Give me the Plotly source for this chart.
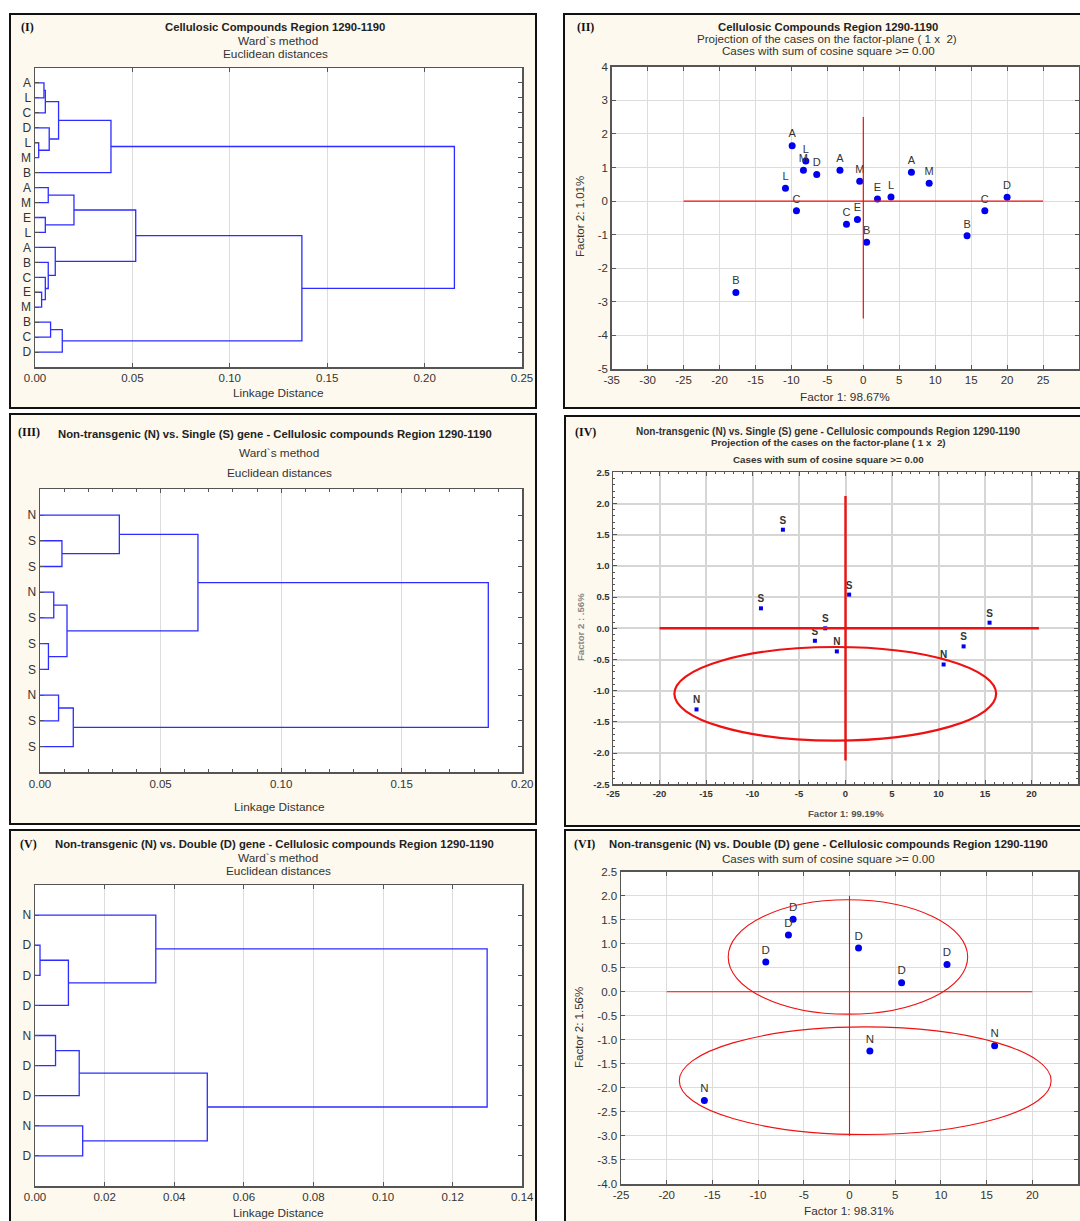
import plotly.graph_objects as go

W, H = 1080, 1221
FONT = "Liberation Sans, Arial, sans-serif"
SERIF = "Liberation Serif, Times New Roman, serif"
BLUE_LINE = "rgb(45,45,255)"

# ---------------- data ----------------
# (I) Ward dendrogram, all samples
d1_leaves = ["A", "L", "C", "D", "L", "M", "B", "A", "M", "E", "L", "A", "B", "C", "E", "M", "B", "C", "D"]
d1_left = [0, 19, 4, 3, 20, 23, 7, 9, 25, 14, 13, 12, 11, 27, 16, 33, 32, 24]
d1_right = [1, 2, 5, 21, 22, 6, 8, 10, 26, 15, 28, 29, 30, 31, 17, 18, 34, 35]
d1_height = [0.0046, 0.0053, 0.0019, 0.0073, 0.0121, 0.039, 0.0068, 0.0053, 0.020,
             0.0034, 0.0053, 0.0068, 0.0104, 0.0517, 0.0080, 0.0140, 0.137, 0.2153]
d1_xticks = [0.0, 0.05, 0.10, 0.15, 0.20, 0.25]

# (II) PCA projection, all samples
s2_labels = ["A", "L", "M", "D", "L", "C", "B", "A", "M", "E", "L", "C", "E", "B", "A", "M", "B", "C", "D"]
s2_x = [-9.9, -8.0, -8.33, -6.48, -10.83, -9.3, -17.73, -3.25, -0.5, 1.97, 3.85, -2.34, -0.82, 0.46,
        6.69, 9.16, 14.43, 16.9, 20.0]
s2_y = [1.65, 1.19, 0.92, 0.79, 0.38, -0.29, -2.72, 0.92, 0.59, 0.06, 0.12, -0.69, -0.55, -1.23,
        0.86, 0.53, -1.03, -0.29, 0.11]
s2_hline = [-25, 25]
s2_vline = [-3.5, 2.5]
s2_xticks = [-35, -30, -25, -20, -15, -10, -5, 0, 5, 10, 15, 20, 25, 30]
s2_yticks = [-5, -4, -3, -2, -1, 0, 1, 2, 3, 4]

# (III) Ward dendrogram, N vs S
d3_leaves = ["N", "S", "S", "N", "S", "S", "S", "N", "S", "S"]
d3_left = [1, 0, 3, 5, 12, 11, 7, 16, 15]
d3_right = [2, 10, 4, 6, 13, 14, 8, 9, 17]
d3_height = [0.0091, 0.0329, 0.0057, 0.0035, 0.0112, 0.0655, 0.0077, 0.0138, 0.1859]
d3_xticks = [0.0, 0.05, 0.10, 0.15, 0.20]

# (IV) PCA projection, N vs S
s4_labels = ["S", "S", "S", "S", "N", "S", "N", "N", "S", "S"]
s4_x = [-6.73, -9.09, -2.18, -3.29, -16.02, 0.39, -0.93, 10.55, 12.7, 15.49]
s4_y = [1.58, 0.32, 0.0, -0.20, -1.30, 0.54, -0.37, -0.58, -0.29, 0.09]
s4_hline = [-20, 20.8]
s4_vline = [-2.12, 2.12]
s4_ellipse = dict(cx=-1.1, cy=-1.05, rx=17.3, ry=0.75)
s4_xticks = [-25, -20, -15, -10, -5, 0, 5, 10, 15, 20, 25]
s4_yticks = [-2.5, -2.0, -1.5, -1.0, -0.5, 0.0, 0.5, 1.0, 1.5, 2.0, 2.5]

# (V) Ward dendrogram, N vs D
d5_leaves = ["N", "D", "D", "D", "N", "D", "D", "N", "D"]
d5_left = [1, 9, 0, 4, 12, 7, 13, 11]
d5_right = [2, 3, 10, 5, 6, 8, 14, 15]
d5_height = [0.00144, 0.0096, 0.0347, 0.0059, 0.0127, 0.0137, 0.0495, 0.1299]
d5_xticks = [0.0, 0.02, 0.04, 0.06, 0.08, 0.10, 0.12, 0.14]

# (VI) PCA projection, N vs D
s6_labels = ["D", "D", "D", "N", "D", "D", "D", "N", "N"]
s6_x = [-6.17, -6.68, -9.16, -15.88, 0.99, 5.7, 10.67, 2.23, 15.88]
s6_y = [1.51, 1.18, 0.62, -2.26, 0.91, 0.19, 0.57, -1.23, -1.12]
s6_hline = [-20, 20]
s6_vline = [-3.0, 2.0]
s6_ellipses = [dict(cx=-0.17, cy=0.725, rx=13.1, ry=1.19),
               dict(cx=1.72, cy=-1.85, rx=20.34, ry=1.12)]
s6_xticks = [-25, -20, -15, -10, -5, 0, 5, 10, 15, 20, 25]
s6_yticks = [-4.0, -3.5, -3.0, -2.5, -2.0, -1.5, -1.0, -0.5, 0.0, 0.5, 1.0, 1.5, 2.0, 2.5]


# ---------------- helpers ----------------
def xd(a, b):
    return [a / W, b / W]


def yd(top, bottom):
    return [1 - bottom / H, 1 - top / H]


def dendro_path(n, left, right, height):
    pos = {i: float(i) for i in range(n)}
    hgt = {i: 0.0 for i in range(n)}
    xs, ys = [], []
    for k, (a, b, h) in enumerate(zip(left, right, height)):
        node = n + k
        xs += [hgt[a], h, h, hgt[b], None]
        ys += [pos[a], pos[a], pos[b], pos[b], None]
        pos[node] = (pos[a] + pos[b]) / 2
        hgt[node] = h
    return xs, ys


def base_axis(**kw):
    d = dict(showline=True, linecolor="#555", linewidth=1.5, mirror="ticks",
             ticks="inside", ticklen=4, tickcolor="#555", tickwidth=1,
             showgrid=True, gridcolor="#dcdcdc", gridwidth=1, zeroline=False,
             tickfont=dict(family=FONT, size=11.5, color="#333"), fixedrange=True,
             automargin=False)
    d.update(kw)
    return d


fig = go.Figure()

# dendrograms
for (leaves, L, R, Hh, ax) in [(d1_leaves, d1_left, d1_right, d1_height, "1"),
                               (d3_leaves, d3_left, d3_right, d3_height, "3"),
                               (d5_leaves, d5_left, d5_right, d5_height, "5")]:
    xs, ys = dendro_path(len(leaves), L, R, Hh)
    fig.add_trace(go.Scatter(x=xs, y=ys, mode="lines", line=dict(color=BLUE_LINE, width=1.3),
                             xaxis="x" if ax == "1" else "x" + ax,
                             yaxis="y" if ax == "1" else "y" + ax,
                             hoverinfo="skip", showlegend=False))

# scatter panels
fig.add_trace(go.Scatter(x=s2_x, y=s2_y, mode="markers+text", text=s2_labels, textposition="top center",
                         marker=dict(color="#0000ee", size=7),
                         textfont=dict(family=FONT, size=11, color="#333"),
                         xaxis="x2", yaxis="y2", showlegend=False, cliponaxis=False))
fig.add_trace(go.Scatter(x=s4_x, y=s4_y, mode="markers+text", text=s4_labels, textposition="top center",
                         marker=dict(color="#0000ee", size=4, symbol="square"),
                         textfont=dict(family=FONT, size=10, color="#333", weight="bold"),
                         xaxis="x4", yaxis="y4", showlegend=False, cliponaxis=False))
fig.add_trace(go.Scatter(x=s6_x, y=s6_y, mode="markers+text", text=s6_labels, textposition="top center",
                         marker=dict(color="#0000ee", size=7),
                         textfont=dict(family=FONT, size=11.5, color="#333"),
                         xaxis="x6", yaxis="y6", showlegend=False, cliponaxis=False))

# ---------------- shapes ----------------
shapes = []
panels = [(10, 14, 536, 408), (564, 14, 1090, 408), (10, 414, 536, 824),
          (565, 416, 1090, 826), (10, 830, 536, 1230), (565, 830, 1090, 1230)]
for (x0, y0, x1, y1) in panels:
    shapes.append(dict(type="rect", xref="paper", yref="paper", layer="below",
                       x0=x0 / W, x1=x1 / W, y0=1 - y1 / H, y1=1 - y0 / H,
                       fillcolor="#fdf9ee", line=dict(color="#111", width=2)))
plots = [(35, 68, 522, 367), (611.7, 66.7, 1079, 369), (40, 489.3, 522.3, 772.3),
         (613, 472.3, 1078, 784.3), (35, 885, 522.3, 1186), (621, 871.7, 1078, 1184)]
for (x0, y0, x1, y1) in plots:
    shapes.append(dict(type="rect", xref="paper", yref="paper", layer="below",
                       x0=x0 / W, x1=x1 / W, y0=1 - y1 / H, y1=1 - y0 / H,
                       fillcolor="white", line=dict(width=0)))

# reference lines
for ax, hl, vl, w in [("2", s2_hline, s2_vline, 1.2), ("4", s4_hline, s4_vline, 2.4), ("6", s6_hline, s6_vline, 1.1)]:
    shapes.append(dict(type="line", xref="x" + ax, yref="y" + ax, x0=hl[0], x1=hl[1], y0=0, y1=0,
                       line=dict(color="#ee1111", width=w)))
    shapes.append(dict(type="line", xref="x" + ax, yref="y" + ax, x0=0, x1=0, y0=vl[0], y1=vl[1],
                       line=dict(color="#ee1111", width=w)))
# ellipses
for ax, ells, w in [("4", [s4_ellipse], 2.2), ("6", s6_ellipses, 1.1)]:
    for e in ells:
        shapes.append(dict(type="circle", xref="x" + ax, yref="y" + ax,
                           x0=e["cx"] - e["rx"], x1=e["cx"] + e["rx"],
                           y0=e["cy"] - e["ry"], y1=e["cy"] + e["ry"],
                           line=dict(color="#ee1111", width=w)))

# ---------------- annotations ----------------
anns = []


def ann(text, x, y, size=11, color="#222", family=FONT, angle=0, xanchor="center"):
    anns.append(dict(text=text, x=x / W, y=1 - y / H, xref="paper", yref="paper", showarrow=False,
                     xanchor=xanchor, yanchor="middle", textangle=angle,
                     font=dict(family=family, size=size, color=color)))


T1 = "Cellulosic Compounds Region 1290-1190"
TS = "Non-transgenic (N) vs. Single (S) gene - Cellulosic compounds Region 1290-1190"
TD = "Non-transgenic (N) vs. Double (D) gene - Cellulosic compounds Region 1290-1190"
PROJ = "Projection of the cases on the factor-plane ( 1 x  2)"
COS = "Cases with sum of cosine square >= 0.00"

TB = 11.3   # bold title size
SUB = 11.8  # subtitle size

# I
ann("<b>(I)</b>", 27, 27, 12, "#111", SERIF)
ann("<b>" + T1 + "</b>", 275, 27, TB)
ann("Ward`s method", 278, 41, SUB, "#333")
ann("Euclidean distances", 275, 54, SUB, "#333")
ann("Linkage Distance", 278, 393, SUB, "#333")
# II
ann("<b>(II)</b>", 585, 27, 12, "#111", SERIF)
ann("<b>" + T1 + "</b>", 828, 27, TB)
ann(PROJ, 827, 39, 11.6, "#333")
ann(COS, 828, 51, 11.6, "#333")
ann("Factor 1: 98.67%", 845, 397, SUB, "#333")
ann("Factor 2: 1.01%", 580, 217, 11.5, "#333", angle=-90)
# III
ann("<b>(III)</b>", 29, 432, 12, "#111", SERIF)
ann("<b>" + TS + "</b>", 275, 434, TB)
ann("Ward`s method", 279, 453, SUB, "#333")
ann("Euclidean distances", 279, 473, SUB, "#333")
ann("Linkage Distance", 279, 807, SUB, "#333")
# IV
ann("<b>(IV)</b>", 585, 432, 12, "#111", SERIF)
ann("<b>" + TS + "</b>", 828, 431, 10, "#333")
ann("<b>" + PROJ + "</b>", 828, 443, 9.8, "#333")
ann("<b>" + COS + "</b>", 828, 459, 9.8, "#333")
ann("<b>Factor 1: 99.19%</b>", 846, 813, 9.6, "#555")
ann("<b>Factor 2 : .56%</b>", 580, 627, 9.6, "#888", angle=-90)
# V
ann("<b>(V)</b>", 28, 844, 12, "#111", SERIF)
ann("<b>" + TD + "</b>", 274, 844, TB)
ann("Ward`s method", 278, 858, SUB, "#333")
ann("Euclidean distances", 278, 871, SUB, "#333")
ann("Linkage Distance", 278, 1213, SUB, "#333")
# VI
ann("<b>(VI)</b>", 584, 844, 12, "#111", SERIF)
ann("<b>" + TD + "</b>", 828, 844, TB)
ann(COS, 828, 858, 11.6, "#333")
ann("Factor 1: 98.31%", 849, 1211, SUB, "#333")
ann("Factor 2: 1.56%", 579, 1028, 11.5, "#333", angle=-90)

# ---------------- axes ----------------
def dendro_y(leaves, dom):
    n = len(leaves)
    return base_axis(domain=dom, range=[n, -1], tickvals=list(range(n)), ticktext=leaves,
                     showgrid=False, tickfont=dict(family=FONT, size=12, color="#333"))


def fmt(vals, nd):
    return [f"{v:.{nd}f}" for v in vals]


small_bold = dict(family=FONT, size=9.5, color="#333", weight="bold")

fig.update_layout(
    width=W, height=H, autosize=False, margin=dict(l=0, r=0, t=0, b=0, pad=0, autoexpand=False),
    paper_bgcolor="white", plot_bgcolor="white", showlegend=False,
    shapes=shapes, annotations=anns,
    xaxis=base_axis(domain=xd(35, 522), anchor="y", range=[0, 0.25],
                    tickvals=d1_xticks, ticktext=fmt(d1_xticks, 2)),
    yaxis=dict(dendro_y(d1_leaves, yd(68, 367)), anchor="x"),
    xaxis2=base_axis(domain=xd(611.7, 1079), anchor="y2", range=[-35, 30],
                     tickvals=s2_xticks, ticktext=fmt(s2_xticks, 0)),
    yaxis2=base_axis(domain=yd(66.7, 369), anchor="x2", range=[-5, 4],
                     tickvals=s2_yticks, ticktext=fmt(s2_yticks, 0)),
    xaxis3=base_axis(domain=xd(40, 522.3), anchor="y3", range=[0, 0.20],
                     tickvals=d3_xticks, ticktext=fmt(d3_xticks, 2),
                     minor=dict(ticks="inside", dtick=0.01, ticklen=3, tickcolor="#555", showgrid=False)),
    yaxis3=dict(dendro_y(d3_leaves, yd(489.3, 772.3)), anchor="x3"),
    xaxis4=base_axis(domain=xd(613, 1078), anchor="y4", range=[-25, 25],
                     tickvals=s4_xticks, ticktext=fmt(s4_xticks, 0), tickfont=small_bold,
                     gridwidth=2, gridcolor="#d6d6d6",
                     minor=dict(ticks="inside", dtick=1, ticklen=2, tickcolor="#555", showgrid=False)),
    yaxis4=base_axis(domain=yd(472.3, 784.3), anchor="x4", range=[-2.5, 2.5],
                     tickvals=s4_yticks, ticktext=fmt(s4_yticks, 1), tickfont=small_bold,
                     gridwidth=2, gridcolor="#d6d6d6",
                     minor=dict(ticks="inside", dtick=0.1, ticklen=2, tickcolor="#555", showgrid=False)),
    xaxis5=base_axis(domain=xd(35, 522.3), anchor="y5", range=[0, 0.14],
                     tickvals=d5_xticks, ticktext=fmt(d5_xticks, 2)),
    yaxis5=dict(dendro_y(d5_leaves, yd(885, 1186)), anchor="x5"),
    xaxis6=base_axis(domain=xd(621, 1078), anchor="y6", range=[-25, 25],
                     tickvals=s6_xticks, ticktext=fmt(s6_xticks, 0)),
    yaxis6=base_axis(domain=yd(871.7, 1184), anchor="x6", range=[-4.0, 2.5],
                     tickvals=s6_yticks, ticktext=fmt(s6_yticks, 1)),
)

# make the page exactly the figure size (no default body margin / scrollbars)
post = ("document.documentElement.style.margin='0';document.documentElement.style.padding='0';"
        "document.documentElement.style.overflow='hidden';"
        "document.body.style.margin='0';document.body.style.padding='0';"
        "document.body.style.overflow='hidden';")

fig.write_html("out.html", post_script=post,
               config={"responsive": False, "displayModeBar": False, "staticPlot": True})
